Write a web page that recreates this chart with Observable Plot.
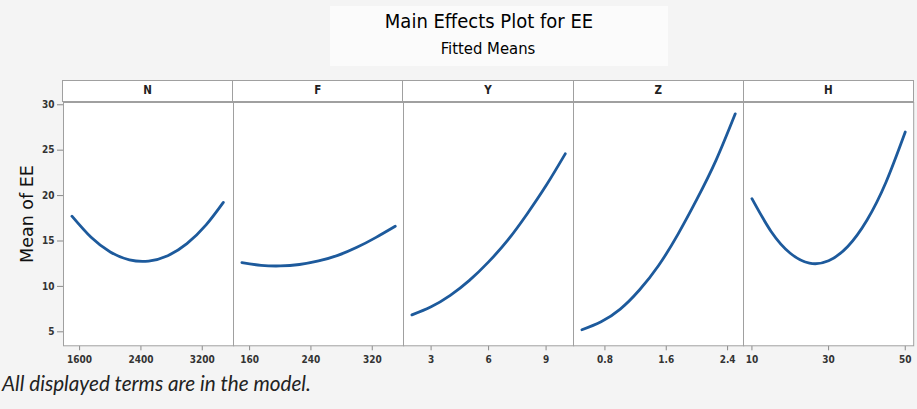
<!DOCTYPE html>
<html>
<head>
<meta charset="utf-8">
<script src="https://cdn.jsdelivr.net/npm/d3@7"></script>
<script src="https://cdn.jsdelivr.net/npm/@observablehq/plot@0.6"></script>
<style>
  body { margin: 0; background: #f4f4f4; }
  #chart { position: relative; width: 917px; height: 409px; overflow: hidden; font-family: "Liberation Sans Narrow", "DejaVu Sans Condensed", sans-serif; }
  .titlebox { position: absolute; left: 330px; top: 6px; width: 338px; height: 60px; background: #fbfbfb; }
  .title { position: absolute; left: 0; width: 978px; top: 9px; text-align: center; font-size: 20px; color: #000; }
  .subtitle { position: absolute; left: 0; width: 976px; top: 39px; text-align: center; font-size: 16.5px; color: #000; }
  .strip { position: absolute; box-sizing: border-box; border: 1px solid #a0a0a0; background: #fff; text-align: center; font-size: 11.5px; font-weight: bold; color: #222; line-height: 19px; }
  .ylabel { position: absolute; left: 27px; top: 214px; transform: translate(-50%, -50%) rotate(-90deg); font-family: "DejaVu Sans", sans-serif; font-size: 17.5px; color: #111; white-space: nowrap; }
  .caption { position: absolute; left: 2px; top: 371px; font-family: Lato, sans-serif; font-style: italic; font-size: 20.7px; color: #222; white-space: nowrap; }
  .panel { position: absolute; }
</style>
</head>
<body>
<div id="chart">
  <div class="titlebox"></div>
  <div class="title">Main Effects Plot for EE</div>
  <div class="subtitle">Fitted Means</div>
  <div class="ylabel">Mean of EE</div>
  <div class="caption">All displayed terms are in the model.</div>
</div>
<script>
// Factor names, in panel order
const factors = ["N", "F", "Y", "Z", "H"];

// Factor levels (x) and fitted means of EE (y) for each factor
const nLevels = [1500, 1750, 2000, 2250, 2500, 2750, 3000, 3250, 3475];
const nMeans  = [17.73, 15.40, 13.79, 12.92, 12.79, 13.38, 14.71, 16.77, 19.25];

const fLevels = [150, 175, 200, 225, 250, 275, 300, 325, 350];
const fMeans  = [12.62, 12.32, 12.25, 12.41, 12.80, 13.41, 14.30, 15.40, 16.62];

const yLevels = [2, 3, 4, 5, 6, 7, 8, 9, 10];
const yMeans  = [6.86, 7.75, 9.01, 10.66, 12.70, 15.09, 17.95, 21.10, 24.60];

const zLevels = [0.5, 0.75, 1.0, 1.25, 1.5, 1.75, 2.0, 2.25, 2.5];
const zMeans  = [5.22, 6.10, 7.50, 9.60, 12.30, 15.70, 19.60, 23.90, 29.00];

const hLevels = [10, 15, 20, 25, 30, 35, 40, 45, 50];
const hMeans  = [19.66, 16.05, 13.65, 12.56, 12.82, 14.40, 17.29, 21.50, 27.00];

// Axis tick values
const nTicks = [1600, 2400, 3200];
const fTicks = [160, 240, 320];
const yTicks = [3, 6, 9];
const zTicks = [0.8, 1.6, 2.4];
const hTicks = [10, 30, 50];
const meanTicks = [5, 10, 15, 20, 25, 30];

// Level ranges shown on each panel's x axis
const nDomain = [1390, 3610];
const fDomain = [139, 361];
const yDomain = [1.56, 10.44];
const zDomain = [0.39, 2.61];
const hDomain = [7.8, 52.2];
const meanDomain = [3.46, 30.25];

const series = [
  {name: "N", levels: nLevels, means: nMeans, ticks: nTicks, domain: nDomain},
  {name: "F", levels: fLevels, means: fMeans, ticks: fTicks, domain: fDomain},
  {name: "Y", levels: yLevels, means: yMeans, ticks: yTicks, domain: yDomain},
  {name: "Z", levels: zLevels, means: zMeans, ticks: zTicks, domain: zDomain},
  {name: "H", levels: hLevels, means: hMeans, ticks: hTicks, domain: hDomain}
];

// Panel geometry
const X0 = 62.5, PW = 170.2, TOP = 101.7, PH = 243.3, STRIP_TOP = 80.2;

const chart = document.getElementById("chart");

series.forEach((s, i) => {
  const mL = i === 0 ? 45 : 15, mR = 15, mT = 5, mB = 30;
  const data = s.levels.map((x, k) => ({x, y: s.means[k]}));
  const svg = Plot.plot({
    width: mL + PW + mR,
    height: mT + PH + mB,
    marginLeft: mL, marginRight: mR, marginTop: mT, marginBottom: mB,
    style: {background: "transparent", overflow: "visible", fontFamily: "Liberation Sans Narrow, DejaVu Sans Condensed, sans-serif", fontSize: "10px", fontWeight: "bold", color: "#333"},
    x: {domain: s.domain, ticks: s.ticks, tickFormat: d => String(d), tickSize: 5, tickPadding: 5, label: null},
    y: {domain: meanDomain, ticks: meanTicks, tickSize: 6, tickPadding: 3, label: null, axis: i === 0 ? "left" : null},
    marks: [
      Plot.frame({fill: "white", stroke: "#a0a0a0"}),
      Plot.line(data, {x: "x", y: "y", stroke: "#1d5a9c", strokeWidth: 2.8, curve: "natural"})
    ]
  });
  svg.querySelectorAll("g[aria-label*='tick'] path, g[aria-label$='axis'] line").forEach(el => el.setAttribute("stroke", "#8a8a8a"));
  svg.classList.add("panel");
  svg.style.left = (X0 + i * PW - mL) + "px";
  svg.style.top = (TOP - mT) + "px";
  chart.appendChild(svg);

  const strip = document.createElement("div");
  strip.className = "strip";
  strip.textContent = s.name;
  strip.style.left = (X0 + i * PW - 0.5) + "px";
  strip.style.top = STRIP_TOP + "px";
  strip.style.width = (PW + 1) + "px";
  strip.style.height = (TOP + 0.5 - STRIP_TOP) + "px";
  chart.appendChild(strip);
});
</script>
</body>
</html>
